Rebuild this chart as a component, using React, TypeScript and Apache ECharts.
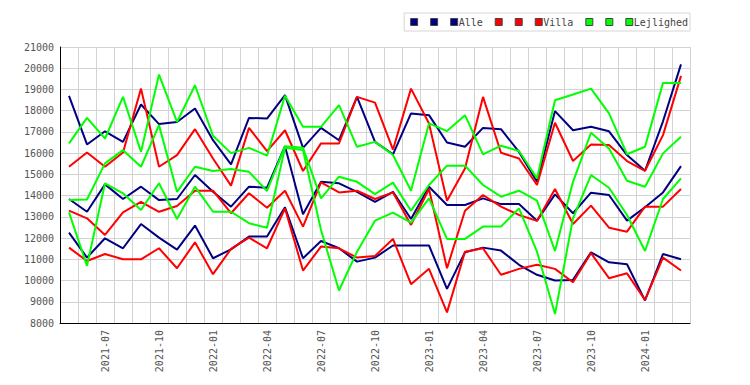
import React, { useEffect, useRef } from 'react';
import * as echarts from 'echarts';

const months = [
  '2021-05', '2021-06', '2021-07', '2021-08', '2021-09', '2021-10', '2021-11', '2021-12',
  '2022-01', '2022-02', '2022-03', '2022-04', '2022-05', '2022-06', '2022-07', '2022-08',
  '2022-09', '2022-10', '2022-11', '2022-12', '2023-01', '2023-02', '2023-03', '2023-04',
  '2023-05', '2023-06', '2023-07', '2023-08', '2023-09', '2023-10', '2023-11', '2023-12',
  '2024-01', '2024-02', '2024-03',
];

const alleHigh = [18700, 16410, 17030, 16530, 18290, 17370, 17470, 18100, 16610, 15470, 17660, 17630, 18730, 16250, 17190, 16610, 18650, 16530, 15940, 17870, 17790, 16500, 16300, 17190, 17130, 16060, 14650, 17980, 17080, 17240, 17030, 15910, 15170, 17500, 20180];
const alleMid = [13840, 13240, 14530, 13840, 14420, 13790, 13840, 14970, 14180, 13480, 14420, 14370, 16330, 13120, 14650, 14580, 14180, 13710, 14180, 12900, 14420, 13560, 13560, 13870, 13600, 13600, 12820, 14060, 13170, 14140, 14030, 12820, 13450, 14150, 15390];
const alleLow = [12260, 11080, 11990, 11520, 12660, 12020, 11460, 12590, 11050, 11470, 12070, 12070, 13450, 11050, 11860, 11520, 10890, 11080, 11650, 11650, 11650, 9610, 11330, 11550, 11410, 10740, 10270, 10000, 10030, 11330, 10860, 10770, 9060, 11250, 11000];

const villaHigh = [15360, 16030, 15360, 16030, 19040, 15360, 15910, 17130, 15750, 14470, 17190, 16100, 17080, 15160, 16460, 16460, 18650, 18380, 16170, 19040, 17400, 13760, 15280, 18650, 16020, 15750, 14500, 17430, 15630, 16410, 16380, 15630, 15170, 16850, 19640];
const villaMid = [13290, 12930, 12150, 13210, 13710, 13240, 13510, 14230, 14230, 13170, 14110, 13430, 14230, 12540, 14620, 14150, 14230, 13840, 14150, 12620, 14310, 10580, 13290, 14030, 13480, 13090, 12810, 14310, 12660, 13530, 12490, 12300, 13480, 13480, 14310];
const villaLow = [11550, 10920, 11250, 11000, 11000, 11520, 10580, 11800, 10300, 11490, 12020, 11520, 13400, 10470, 11600, 11520, 11080, 11160, 11960, 9830, 10550, 8500, 11360, 11520, 10270, 10550, 10740, 10550, 9920, 11290, 10110, 10340, 9090, 11080, 10470];

const lejHigh = [16460, 17660, 16690, 18650, 16060, 19700, 17470, 19200, 16820, 16000, 16250, 15880, 18700, 17240, 17240, 18260, 16300, 16530, 15910, 14230, 17400, 17040, 17790, 15940, 16350, 16100, 14810, 18490, 18760, 19040, 17870, 15950, 16300, 19310, 19310];
const lejMid = [13790, 13820, 15520, 16140, 15360, 17320, 14180, 15360, 15160, 15250, 15120, 14220, 16330, 16250, 13870, 14890, 14650, 14070, 14610, 13290, 14500, 15410, 15410, 14500, 13950, 14230, 13760, 11390, 14650, 16960, 16220, 14700, 14420, 15990, 16770];
const lejLow = [13210, 10690, 14580, 14110, 13320, 14580, 12900, 14420, 13240, 13240, 12700, 12490, 16250, 16150, 12380, 9530, 11360, 12820, 13200, 12730, 13870, 11960, 11960, 12540, 12540, 13400, 11360, 8420, 12930, 14970, 14370, 13090, 11390, 13840, 14810];

const seriesNames = ['Alle_1', 'Alle_2', 'Alle', 'Villa_1', 'Villa_2', 'Villa', 'Lejlighed_1', 'Lejlighed_2', 'Lejlighed'];
const seriesColors = ['#000080', '#000080', '#000080', '#ff0000', '#ff0000', '#ff0000', '#00ff00', '#00ff00', '#00ff00'];
const seriesData = [alleHigh, alleMid, alleLow, villaHigh, villaMid, villaLow, lejHigh, lejMid, lejLow];

const FONT = 'DejaVu Sans Mono';

export default function App() {
  const ref = useRef<HTMLDivElement>(null);

  useEffect(() => {
    if (!ref.current) return;
    const chart = echarts.init(ref.current, null, { renderer: 'svg' });
    chart.setOption({
      animation: false,
      backgroundColor: '#ffffff',
      grid: { left: 60, right: 60, top: 47, bottom: 62 },
      legend: {
        data: seriesNames,
        right: 60,
        top: 13,
        icon: 'rect',
        itemWidth: 7,
        itemHeight: 7,
        itemGap: 12,
        padding: [4, 2, 4, 6],
        borderColor: '#d6d6d6',
        borderWidth: 1,
        itemStyle: { borderColor: '#444', borderWidth: 1 },
        textStyle: { fontFamily: FONT, fontSize: 10, color: '#444', padding: [0, 0, 0, -4] },
        formatter: (n: string) => (n.indexOf('_') >= 0 ? '' : n),
        selectedMode: false,
      },
      xAxis: {
        type: 'category',
        data: months,
        boundaryGap: true,
        axisLine: { show: true, lineStyle: { color: '#000', width: 1 } },
        axisTick: { show: false },
        splitLine: { show: true, interval: 0, lineStyle: { color: '#d3d3d3', width: 1 } },
        axisLabel: {
          interval: (i: number) => i % 3 === 2,
          rotate: 90,
          margin: 7,
          color: '#555',
          fontFamily: FONT,
          fontSize: 10,
        },
      },
      yAxis: {
        type: 'value',
        min: 8000,
        max: 21000,
        interval: 1000,
        axisLine: { show: true, lineStyle: { color: '#000', width: 1 } },
        axisTick: { show: false },
        splitLine: { show: true, lineStyle: { color: '#d3d3d3', width: 1 } },
        axisLabel: {
          color: '#555',
          fontFamily: FONT,
          fontSize: 10,
          margin: 6,
          formatter: (v: number) => String(v),
        },
      },
      series: seriesNames.map((name, i) => ({
        name,
        type: 'line',
        data: seriesData[i],
        symbol: 'none',
        showSymbol: false,
        color: seriesColors[i],
        lineStyle: { color: seriesColors[i], width: 2 },
        emphasis: { disabled: true },
      })),
    });
    return () => chart.dispose();
  }, []);

  return (
    <div
      ref={ref}
      style={{ position: 'absolute', left: 0, top: 0, width: 750, height: 385, background: '#fff' }}
    />
  );
}
